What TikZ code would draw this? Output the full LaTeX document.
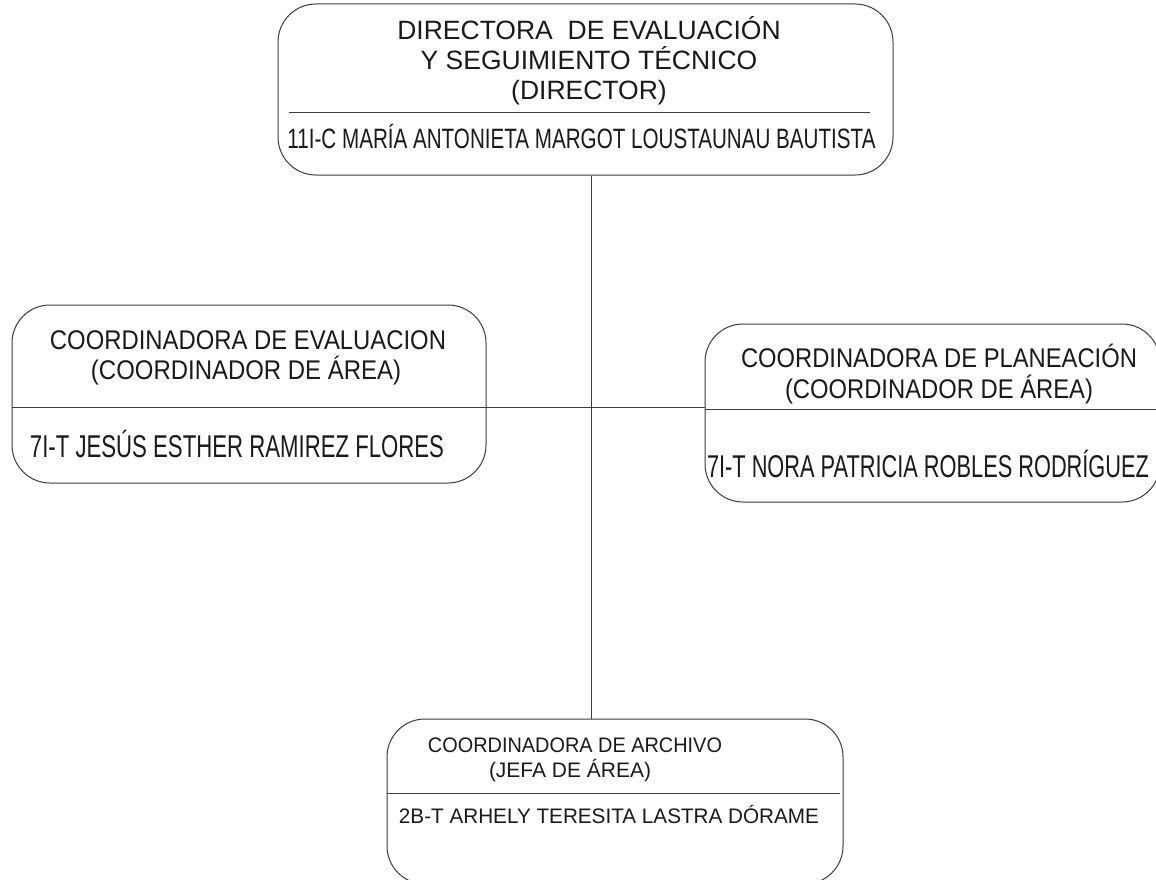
\documentclass[tikz,border=0pt]{standalone}
\usepackage{fontspec}
\setmainfont{Liberation Sans}
\usepackage{graphicx}
\definecolor{linegray}{HTML}{3C3C3C}
\definecolor{txtcol}{HTML}{1A1A1A}
\newcommand{\fitw}[2]{\resizebox{#1}{\height}{#2}}
\begin{document}
\begin{tikzpicture}[x=1pt,y=-1pt,
  box/.style={draw=linegray, line width=1pt, rounded corners=38pt, inner sep=0pt},
  conn/.style={draw=linegray, line width=1pt},
  txt/.style={inner sep=0pt, anchor=base, text=txtcol},
  tHead/.style={txt, font=\fontsize{26.5pt}{30pt}\selectfont},
  tName/.style={txt, font=\fontsize{28pt}{32pt}\selectfont},
  tSub/.style={txt, font=\fontsize{27pt}{31pt}\selectfont},
  tSubName/.style={txt, font=\fontsize{31.5pt}{35pt}\selectfont},
  tLow/.style={txt, font=\fontsize{21pt}{25pt}\selectfont}]
\useasboundingbox (0,0) rectangle (1156,880);
\fill[white] (0,0) rectangle (1156,880);
% boxes
\node[box, minimum width=615pt, minimum height=171pt] (top) at (585.5,89.5) {};
\node[box, minimum width=474pt, minimum height=178pt] (left) at (249,394) {};
\node[box, minimum width=455pt, minimum height=178pt] (right) at (932.5,413) {};
\node[box, minimum width=456pt, minimum height=165pt] (bot) at (615,801.5) {};
% dividers
\draw[conn] (289,113) -- (870,113);
\draw[conn] (right.west |- 0,409) -- (right.east |- 0,409);
\draw[conn] (bot.west |- 0,793) -- (840,793);
% connectors
\coordinate (v) at (591,0);
\coordinate (h) at (0,407);
\draw[conn] (top.south -| v) -- (bot.north -| v);
\draw[conn] (left.west |- h) -- (right.west |- h);
% texts: top
\node[tHead] (t1) at (589,40) {DIRECTORA\ \ DE EVALUACIÓN};
\node[tHead] (t2) at (589,70) {Y SEGUIMIENTO TÉCNICO};
\node[tHead] (t3) at (589,100) {(DIRECTOR)};
\node[tName] (t4) at (581.5,148) {\fitw{588pt}{11I-C MARÍA ANTONIETA MARGOT LOUSTAUNAU BAUTISTA}};
% left
\node[tSub] (l1) at (248,349.5) {\fitw{396pt}{COORDINADORA DE EVALUACION}};
\node[tSub] (l2) at (246,379.5) {\fitw{310pt}{(COORDINADOR DE ÁREA)}};
\node[tSubName] (l3) at (237,457) {\fitw{414pt}{7I-T JESÚS ESTHER RAMIREZ FLORES}};
% right
\node[tSub] (r1) at (939,367) {\fitw{396pt}{COORDINADORA DE PLANEACIÓN}};
\node[tSub] (r2) at (939,398) {\fitw{308pt}{(COORDINADOR DE ÁREA)}};
\node[tSubName] (r3) at (928,477) {\fitw{442pt}{7I-T NORA PATRICIA ROBLES RODRÍGUEZ}};
% bottom
\node[tLow] (b1) at (575,752) {\fitw{294pt}{COORDINADORA DE ARCHIVO}};
\node[tLow] (b2) at (570,777) {\fitw{162pt}{(JEFA DE ÁREA)}};
\node[tLow] (b3) at (609,823) {\fitw{420pt}{2B-T ARHELY TERESITA LASTRA DÓRAME}};
\end{tikzpicture}
\end{document}
